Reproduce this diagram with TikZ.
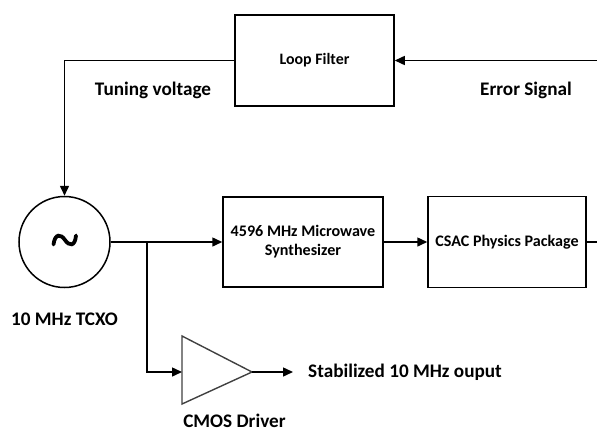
\documentclass[tikz,border=0pt]{standalone}
\usepackage{fontspec}
\setmainfont{Carlito}
\usetikzlibrary{arrows.meta}
\begin{document}
\begin{tikzpicture}[x=1pt,y=-1pt,
  blk/.style={draw, line width=1.5pt, align=center, inner sep=0pt,
    font=\fontsize{16.1}{19}\selectfont\bfseries},
  conn/.style={line width=1.5pt},
  arr/.style={conn, -{Triangle[length=10pt,width=9pt]}},
  lbl/.style={font=\fontsize{19.2}{21}\selectfont\bfseries, anchor=base, inner sep=0pt},
]
\useasboundingbox (0,0) rectangle (597,431);
% blocks
\node[blk, minimum width=159pt, minimum height=91pt, font=\fontsize{15.9}{18}\selectfont\bfseries] (lf) at (314.5,60.5) {Loop Filter};
\node[blk, minimum width=160pt, minimum height=90pt] (syn) at (303,242) {4596 MHz Microwave\\Synthesizer};
\node[blk, minimum width=158pt, minimum height=91pt] (csac) at (507,242) {CSAC Physics Package};
\node[draw, circle, line width=1.5pt, minimum size=91pt, inner sep=0pt] (osc) at (64.5,242) {};
% tilde symbol
\draw[line width=3.8pt, line cap=round] (53.5,244.5) .. controls (55,233) and (61,234) .. (65,240) .. controls (69,246) and (75,247) .. (76,235.5);
% driver triangle
\coordinate (drvL) at (182,372);
\coordinate (drvT) at (252,372);
\draw[line width=1.4pt, draw=black!75, line join=miter] (182,336) -- (drvT) -- (182,404) -- cycle;
% free ends
\coordinate (eR) at (597,60.5);
\coordinate (cR) at (597,242);
\coordinate (br) at (147,242);
\coordinate (outE) at (293,372);
% connectors
\draw[arr] (lf.west) -| (osc.north);
\draw[arr] (eR) -- (lf.east);
\draw[arr] (osc.east) -- (syn.west);
\draw[arr] (br) |- (drvL);
\draw[arr] (syn.east) -- (csac.west);
\draw[conn] (csac.east) -- (cR);
\draw[arr] (drvT) -- (outE);
% labels
\node[lbl] (tv) at (153,95.5) {Tuning voltage};
\node[lbl] (es) at (526,95.5) {Error Signal};
\node[lbl] (tcxo) at (64.5,325) {10 MHz TCXO};
\node[lbl] (cmos) at (234.5,427) {CMOS Driver};
\node[lbl, anchor=base west] (out) at (308,377.5) {Stabilized 10 MHz ouput};
\end{tikzpicture}
\end{document}
